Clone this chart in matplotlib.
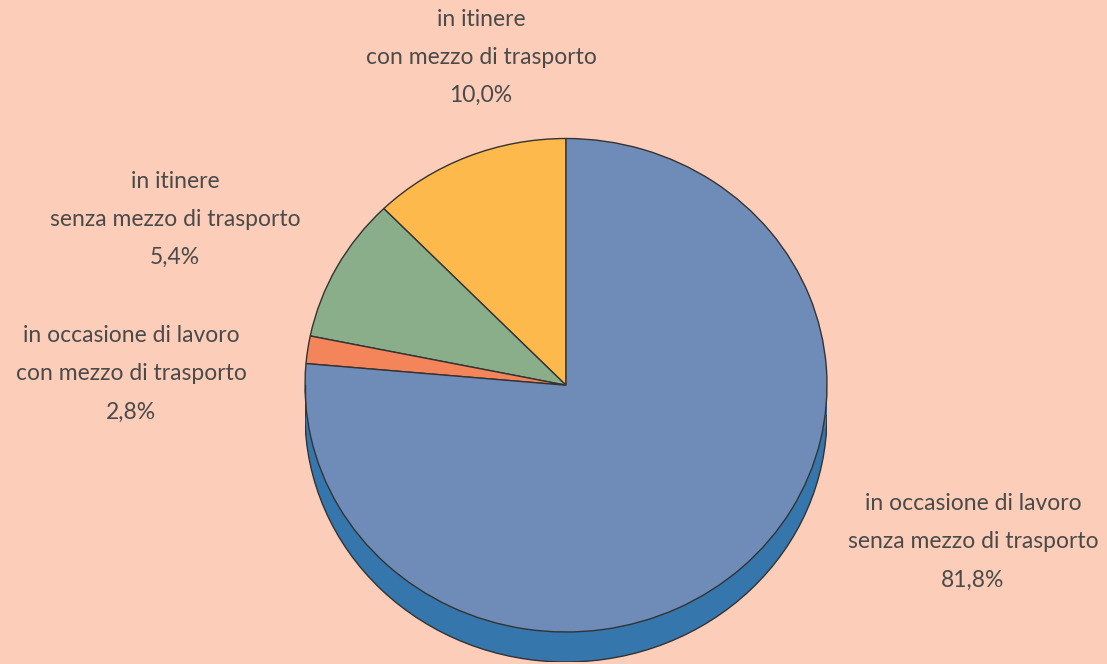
import matplotlib.pyplot as plt
from matplotlib.patches import Ellipse, Rectangle

# slice shares as drawn in the picture (the printed labels are given below)
shares = [12.3, 9.5, 1.8, 76.4]
colors = ['#fdb94b', '#8aad8a', '#f4855a', '#6f8cb8']
side_color = '#3576ad'
bg = '#fccdb9'

labels = ['in itinere\ncon mezzo di trasporto\n10,0%',
          'in itinere\nsenza mezzo di trasporto\n5,4%',
          'in occasione di lavoro\ncon mezzo di trasporto\n2,8%',
          'in occasione di lavoro\nsenza mezzo di trasporto\n81,8%']
label_pos = [(481, 57), (175, 219), (131, 374), (973, 542)]

fig = plt.figure(figsize=(11.07, 6.64), dpi=100, facecolor=bg)

# pie axes: ellipse 305..827 px wide, 138.5..632 px tall, plus 30 px depth
depth = 30 / 246.75
ax = fig.add_axes([305 / 1107, 2 / 664, 522 / 1107, 523.5 / 664])
ax.set_facecolor(bg)

edge = '#333333'
ax.add_patch(Ellipse((0, -depth), 2, 2, facecolor=side_color, edgecolor=edge, lw=1.0))
ax.add_patch(Rectangle((-1, -depth), 2, depth, facecolor=side_color, edgecolor='none'))
ax.plot([-1, -1], [-depth, 0], color=edge, lw=1.0)
ax.plot([1, 1], [-depth, 0], color=edge, lw=1.0)

ax.pie(shares, colors=colors, startangle=90, counterclock=True, radius=1,
       wedgeprops=dict(edgecolor=edge, linewidth=1.0))
ax.set_aspect('auto')
ax.set_xlim(-1, 1)
ax.set_ylim(-1 - depth, 1)
ax.axis('off')

for txt, (x, y) in zip(labels, label_pos):
    fig.text(x / 1107, 1 - y / 664, txt, ha='center', va='center',
             fontsize=16.5, family='Lato', color='#4a4a4a', linespacing=2.0)

plt.savefig('out.png', dpi=100, facecolor=bg)
